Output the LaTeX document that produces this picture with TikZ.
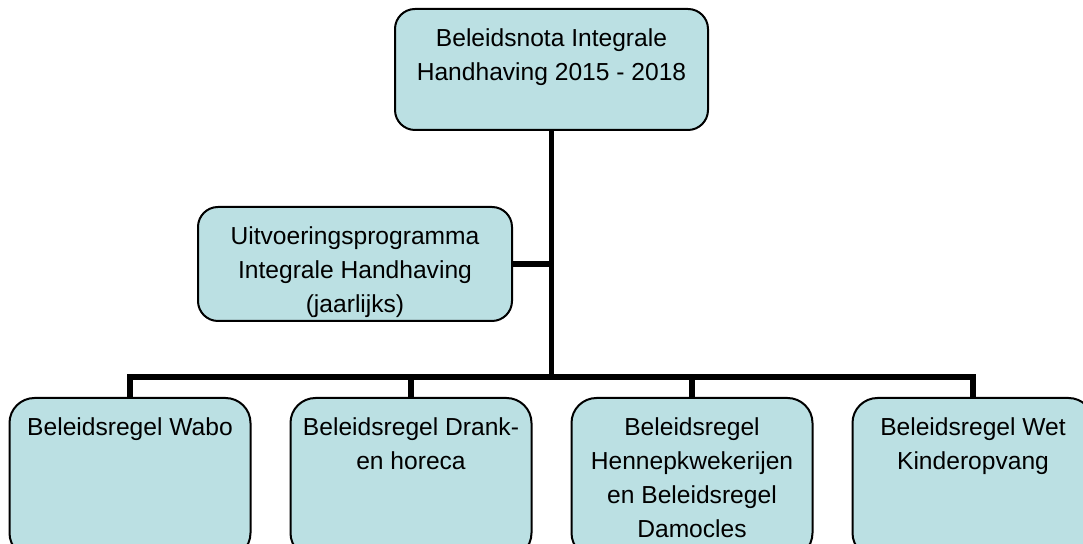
\documentclass[tikz,border=0pt]{standalone}
\usepackage{fontspec}
\setmainfont{Liberation Sans}
\usetikzlibrary{positioning}
\definecolor{kaderfill}{HTML}{BBE0E3}

\newcommand{\kadertekst}[3]{\parbox[c][#1][t]{#2}{\centering\rule{0pt}{19pt}#3}}

\tikzset{
  kader/.style={draw=black,line width=1pt,fill=kaderfill,rounded corners=10pt,inner sep=0pt,
    font=\fontsize{12.3}{17}\selectfont},
  regel/.style={kader,rounded corners=12.5pt},
  lijn/.style={line width=2.8pt}
}

\begin{document}
\begin{tikzpicture}[x=0.5pt,y=-0.5pt]
\useasboundingbox (0,0) rectangle (1083,544);
\clip (0,0) rectangle (1083,544);
% nota en uitvoeringsprogramma
\node[kader] (nota) at (551.5,69.5) {\kadertekst{60.5pt}{156.5pt}{Beleidsnota Integrale\\Handhaving 2015 - 2018}};
\node[kader] (uitvoering) at (355,264) {\kadertekst{57pt}{157pt}{Uitvoeringsprogramma\\Integrale Handhaving\\(jaarlijks)}};
% beleidsregels
\node[regel] (wabo) at (130,478) {\kadertekst{80pt}{120.5pt}{Beleidsregel Wabo}};
\node[regel] (drank) at (411,478) {\kadertekst{80pt}{120.5pt}{Beleidsregel Drank-\\en horeca}};
\node[regel] (hennep) at (692,478) {\kadertekst{80pt}{120.5pt}{Beleidsregel\\Hennepkwekerijen\\en Beleidsregel\\Damocles}};
\node[regel] (kinder) at (973,478) {\kadertekst{80pt}{120.5pt}{Beleidsregel Wet\\Kinderopvang}};
\coordinate (bus) at (552,377);
% lijnen
\draw[lijn] (nota.south) -- (nota.south |- bus);
\draw[lijn] (uitvoering.east) -- (uitvoering.east -| nota.south);
\draw[lijn] (wabo.north) -- (wabo.north |- bus) -| (kinder.north);
\draw[lijn] (drank.north) -- (drank.north |- bus);
\draw[lijn] (hennep.north) -- (hennep.north |- bus);
\end{tikzpicture}
\end{document}
